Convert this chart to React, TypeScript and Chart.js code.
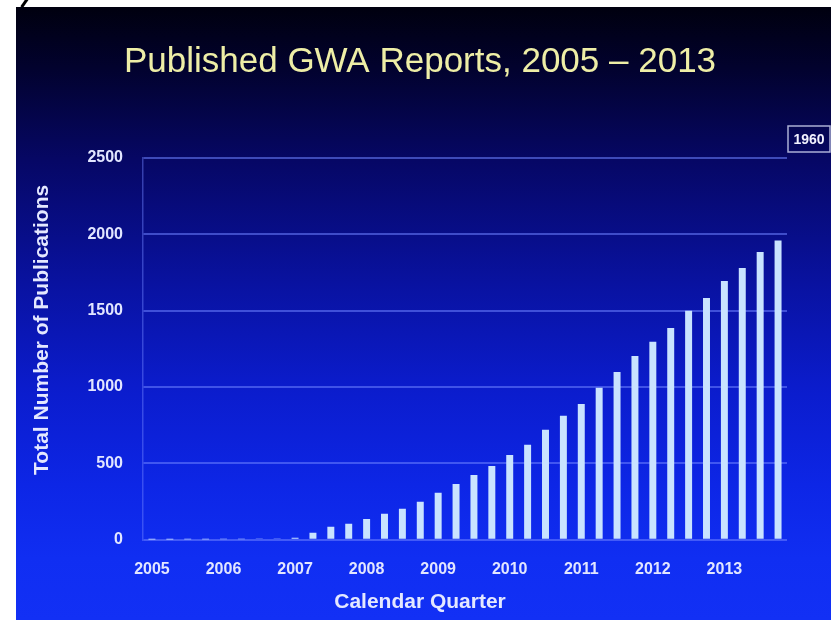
import React, { useEffect, useRef } from "react";
import { Chart, registerables } from "chart.js";

Chart.register(...registerables);

// ---- data ----
const years = ["2005", "2006", "2007", "2008", "2009", "2010", "2011", "2012", "2013"];
const quarterNames = ["Q1", "Q2", "Q3", "Q4"];
const quarters = years.flatMap((y) => quarterNames.map((q) => `${y} ${q}`));
// cumulative number of published GWA reports at each calendar quarter
const totals = [
  1, 1, 2, 2,
  3, 4, 6, 8,
  13, 46, 85, 105,
  137, 170, 203, 249,
  308, 366, 425, 484,
  556, 622, 720, 812,
  890, 995, 1099, 1204,
  1296, 1387, 1499, 1584,
  1695, 1780, 1885, 1960,
];
const yMin = 0;
const yMax = 2500;
const yStep = 500;
const titleText = "Published GWA Reports, 2005 \u2013 2013";
const yTitleText = "Total Number of Publications";
const xTitleText = "Calendar Quarter";

const FONT = "'Liberation Sans', Arial, sans-serif";

const overlayPlugin = {
  id: "slideOverlay",
  afterDraw(chart: any) {
    const { ctx, chartArea } = chart;
    // y-axis title
    ctx.save();
    ctx.translate(26, (chartArea.top + chartArea.bottom) / 2 - 19);
    ctx.rotate(-Math.PI / 2);
    ctx.font = `bold 21px ${FONT}`;
    ctx.fillStyle = "#e4e8ff";
    ctx.textAlign = "center";
    ctx.textBaseline = "middle";
    ctx.fillText(yTitleText, 0, 0);
    ctx.restore();

    // total box
    const last = totals[totals.length - 1];
    const bx = chartArea.right + 1;
    const by = chartArea.top - 32;
    const bw = 42;
    const bh = 26;
    ctx.save();
    ctx.strokeStyle = "rgba(200,205,235,0.85)";
    ctx.lineWidth = 1.5;
    ctx.strokeRect(bx, by, bw, bh);
    ctx.font = `bold 14px ${FONT}`;
    ctx.fillStyle = "#f2f2ff";
    ctx.textAlign = "center";
    ctx.textBaseline = "middle";
    ctx.fillText(String(last), bx + bw / 2, by + bh / 2 + 1);
    ctx.restore();
  },
};

function GwaChart() {
  const canvasRef = useRef<HTMLCanvasElement | null>(null);

  useEffect(() => {
    if (!canvasRef.current) return;
    const chart = new Chart(canvasRef.current, {
      type: "bar",
      data: {
        labels: quarters,
        datasets: [
          {
            label: "Total",
            data: totals,
            backgroundColor: "#c9e3ff",
            borderWidth: 0,
            categoryPercentage: 1,
            barPercentage: 0.39,
          },
        ],
      },
      options: {
        responsive: false,
        animation: false,
        devicePixelRatio: 1,
        layout: { padding: { left: 37, right: 44, top: 0, bottom: 0 } },
        plugins: {
          legend: { display: false },
          tooltip: { enabled: false },
          title: {
            display: true,
            text: titleText,
            color: "#eeeea6",
            font: { family: FONT, size: 35, weight: "normal" },
            padding: { top: 34, bottom: 75 },
          },
          subtitle: {
            display: true,
            position: "bottom",
            text: xTitleText,
            color: "#e4e8ff",
            font: { family: FONT, size: 21, weight: "bold" },
            padding: { top: 10, bottom: 5 },
          },
        },
        scales: {
          x: {
            afterFit: (scale: any) => {
              scale.height = 40;
            },
            grid: { display: false, drawTicks: false },
            border: { display: false },
            ticks: {
              autoSkip: false,
              maxRotation: 0,
              minRotation: 0,
              padding: 20,
              color: "#e2e6ff",
              font: { family: FONT, size: 16, weight: "bold" },
              callback: (_v: any, i: number) => (i % 4 === 0 ? years[i / 4] : ""),
            },
          },
          y: {
            min: yMin,
            max: yMax,
            afterFit: (scale: any) => {
              scale.width = 90;
            },
            ticks: {
              stepSize: yStep,
              padding: 20,
              color: "#e2e6ff",
              font: { family: FONT, size: 16, weight: "bold" },
              callback: (v: any) => String(v),
            },
            grid: {
              color: "rgba(110,130,255,0.55)",
              lineWidth: 2,
              drawTicks: false,
            },
            border: { display: true, color: "rgba(110,130,255,0.45)", width: 1.5 },
          },
        },
      },
      plugins: [overlayPlugin],
    });
    return () => chart.destroy();
  }, []);

  return <canvas ref={canvasRef} width={815} height={613} style={{ display: "block" }} />;
}

export default function App() {
  return (
    <div
      style={{
        position: "fixed",
        left: 0,
        top: 0,
        width: 831,
        height: 620,
        background: "#ffffff",
        overflow: "hidden",
      }}
    >
      <div
        style={{
          position: "absolute",
          left: 23,
          top: -2,
          width: 3,
          height: 10,
          background: "#000",
          transform: "rotate(35deg)",
        }}
      />
      <div
        style={{
          position: "absolute",
          left: 16,
          top: 7,
          width: 815,
          height: 613,
          background:
            "linear-gradient(to bottom, #00000f 0%, #02022e 10%, #060765 25%, #0912a0 45%, #0b1ccc 62%, #0d26e6 78%, #102ef2 90%, #1230f5 100%)",
        }}
      >
        <GwaChart />
      </div>
    </div>
  );
}
